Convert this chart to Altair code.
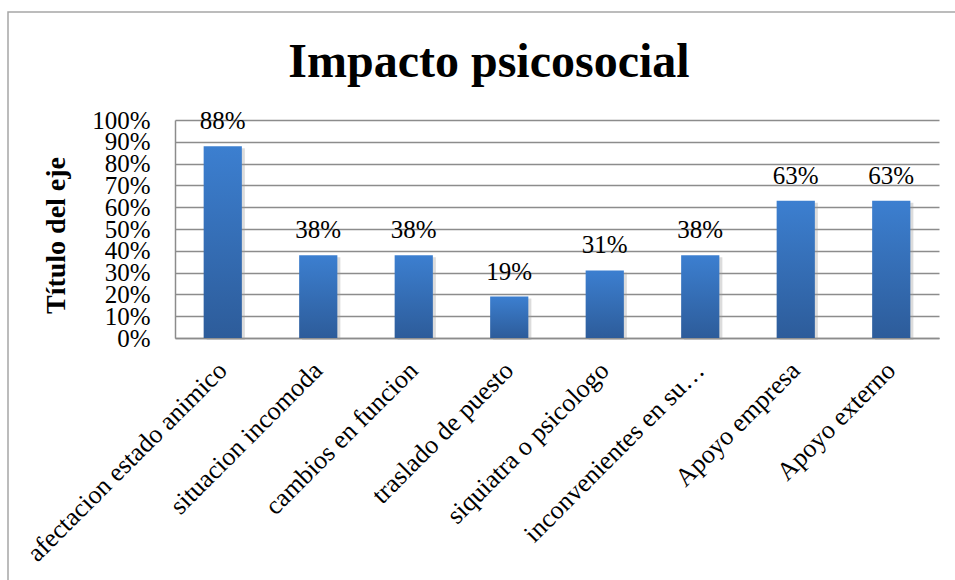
import altair as alt
import pandas as pd

categories = [
    "afectacion estado animico",
    "situacion incomoda",
    "cambios en funcion",
    "traslado de puesto",
    "siquiatra o psicologo",
    "inconvenientes en su…",
    "Apoyo empresa",
    "Apoyo externo",
]
values = [0.88, 0.38, 0.38, 0.19, 0.31, 0.38, 0.63, 0.63]
y_ticks = [0.0, 0.1, 0.2, 0.3, 0.4, 0.5, 0.6, 0.7, 0.8, 0.9, 1.0]
chart_title = "Impacto psicosocial"
y_title = "Título del eje"

FONT = "Liberation Serif"
GRID = "#8c8c8c"
W, H = 764, 218

df = pd.DataFrame({"cat": categories, "val": values})

x_enc = alt.X(
    "cat:N",
    sort=categories,
    scale=alt.Scale(paddingInner=0.6, paddingOuter=0.3),
    axis=alt.Axis(
        title=None,
        labelAngle=-45,
        labelAlign="right",
        labelBaseline="middle",
        labelFont=FONT,
        labelFontSize=26,
        labelColor="black",
        labelPadding=28,
        labelLimit=500,
        labelOverlap=False,
        ticks=False,
        domainColor=GRID,
        domainWidth=1.5,
    ),
)
y_enc = alt.Y(
    "val:Q",
    scale=alt.Scale(domain=[0, 1], nice=False),
    axis=alt.Axis(
        values=y_ticks,
        format=".0%",
        title=y_title,
        titleFont=FONT,
        titleFontSize=28,
        titleFontWeight="bold",
        titleColor="black",
        titleX=-119,
        titleY=115,
        titleAlign="center",
        titleBaseline="middle",
        labelFont=FONT,
        labelFontSize=25,
        labelColor="black",
        labelPadding=25,
        labelOverlap=False,
        ticks=False,
        gridColor=GRID,
        gridWidth=1.5,
        domainColor=GRID,
        domainWidth=1.5,
    ),
)

base = alt.Chart(df)

shadow = base.mark_bar(color="#9a9a9a", opacity=0.35, xOffset=3, yOffset=2).encode(
    x=x_enc, y=y_enc
)

bars = base.mark_bar(
    color=alt.Gradient(
        gradient="linear",
        stops=[
            alt.GradientStop(color="#3c7fd0", offset=0),
            alt.GradientStop(color="#2d5c9a", offset=1),
        ],
        x1=0, x2=0, y1=0, y2=1,
    )
).encode(x=x_enc, y=y_enc)

labels = base.mark_text(
    font=FONT, fontSize=25, color="black", baseline="alphabetic", dy=-17
).encode(x=x_enc, y=y_enc, text=alt.Text("val:Q", format=".0%"))

border = alt.Chart(pd.DataFrame({"a": [0]})).mark_rect(
    filled=False, color="#a6a6a6", strokeWidth=1.5
).encode(
    x=alt.value(-167), x2=alt.value(W + 40), y=alt.value(-108), y2=alt.value(H + 260)
)

title = alt.Chart(pd.DataFrame({"t": [chart_title]})).mark_text(
    font=FONT, fontSize=48, fontWeight="bold", color="black",
    align="center", baseline="alphabetic"
).encode(x=alt.value(314), y=alt.value(-43), text="t:N")

chart = alt.layer(border, shadow, bars, labels, title).properties(
    width=W,
    height=H,
    autosize=alt.AutoSizeParams(type="none"),
    padding={"left": 175, "top": 120, "right": 16, "bottom": 242},
    background="white",
).configure_view(strokeWidth=0)

chart.save("out.html", embed_options={"renderer": "svg", "actions": False})
